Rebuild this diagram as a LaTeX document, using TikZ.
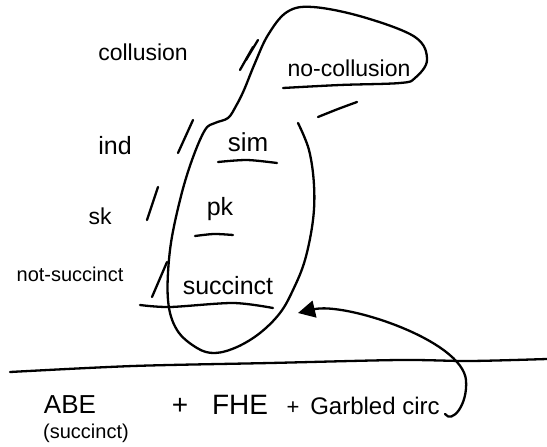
\documentclass[tikz,border=0pt]{standalone}
\usepackage{fontspec}
\setmainfont{Liberation Sans}
\usetikzlibrary{arrows.meta}
\tikzset{
  ink/.style={line width=2.3pt, line cap=round, line join=round},
  word/.style={inner sep=0pt, font=\fontsize{23}{26}\selectfont},
  small/.style={inner sep=0pt, font=\fontsize{20}{23}\selectfont},
}
\begin{document}
\begin{tikzpicture}[x=1pt,y=-1pt]
\useasboundingbox (0,0) rectangle (547,447);

% labels
\node[word] (collusion)   at (143,52)  {collusion};
\node[word] (nocollusion) at (349,68)  {no-collusion};
\node[word, font=\fontsize{25}{28}\selectfont] (ind) at (115,146) {ind};
\node[word, font=\fontsize{26}{29}\selectfont] (sim) at (248,142) {sim};
\node[word] (sk)          at (100,216) {sk};
\node[word, font=\fontsize{25}{28}\selectfont] (pk) at (220,209) {pk};
\node[small] (notsuccinct) at (70,274) {not-succinct};
\node[word, font=\fontsize{25}{28}\selectfont] (succinct) at (228,286) {succinct};
\node[word, font=\fontsize{26}{30}\selectfont] (abe) at (70,405) {ABE};
\node[small] (abesub)     at (86,433)  {(succinct)};
\node[inner sep=0pt, font=\fontsize{28}{32}\selectfont] (plusa) at (180,406) {+};
\node[inner sep=0pt, font=\fontsize{28}{32}\selectfont] (fhe) at (240,405) {FHE};
\node[inner sep=0pt, font=\fontsize{22}{25}\selectfont] (plusb) at (293,408) {+};
\node[inner sep=0pt, font=\fontsize{24}{27}\selectfont] (garbled) at (375,406) {Garbled circ};

% separators
\draw[ink] (240,70) -- (253,47);
\draw[ink] (246,60) -- (258,40);
\draw[ink] (178,153) -- (193,120);
\draw[ink] (147,220) -- (158,187);
\draw[ink] (152,297) -- (167,262);

% underlines
\draw[ink] plot[smooth] coordinates {(218,162) (247,160) (277,163)};
\draw[ink] plot[smooth] coordinates {(195,236) (214,234) (233,235)};
\draw[ink] plot[smooth] coordinates {(140,305) (170,307) (233,303) (273,308)};

% balloon: no-collusion blob joined to the ellipse
\draw[ink] plot[smooth, tension=0.6] coordinates {
  (283,88) (340,85) (400,83) (415,78) (427,60) (415,37) (363,17) (313,7)
  (287,12) (268,35) (255,63) (244,90) (236,106) (228,118) (215,123)
  (205,130) (192,160) (180,200) (170,250) (168,300) (177,330) (197,348)
  (215,353) (237,347) (260,333) (280,313) (293,290) (305,260) (313,220)
  (314,185) (309,150) (298,123)};
\draw[ink] plot[smooth] coordinates {(318,117) (338,109) (357,102)};

% divider
\draw[ink] plot[smooth] coordinates {(10,372) (133,366) (270,363) (400,360) (470,361) (547,359)};

% arrow back to the succinct side
\coordinate (hook) at (445,414);
\coordinate (tip)  at (298,313);
\draw[ink, -{Triangle[length=17pt, width=17pt]}]
  (hook) .. controls (452,424) and (468,405) .. (466,380)
         .. controls (462,340) and (345,302) .. (tip);
\end{tikzpicture}
\end{document}
